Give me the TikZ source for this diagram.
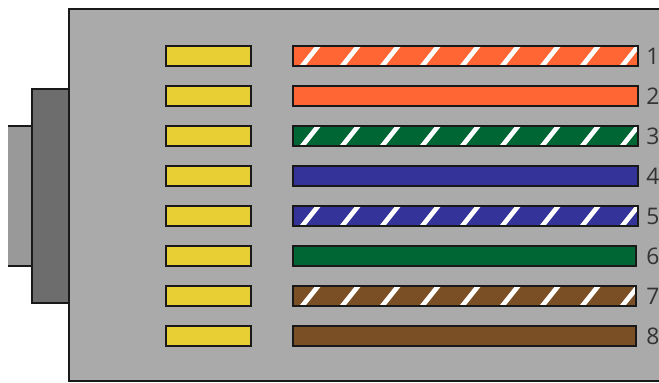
\documentclass[tikz,border=0pt]{standalone}
\usepackage{fontspec}
\setmainfont{Open Sans}
\definecolor{plugbody}{HTML}{AAAAAA}
\definecolor{plugneck}{HTML}{6D6D6D}
\definecolor{plugtab}{HTML}{999999}
\definecolor{pinyellow}{HTML}{E8CF33}
\definecolor{wireorange}{HTML}{FF6633}
\definecolor{wiregreen}{HTML}{006633}
\definecolor{wireblue}{HTML}{333399}
\definecolor{wirebrown}{HTML}{7B4F26}

\begin{document}
\begin{tikzpicture}[
    shell/.style={draw=black!90, line width=0.04cm},
    pin/.style={draw=black!90, line width=0.046cm, inner sep=0, minimum width=1.7cm, minimum height=0.4cm, fill=pinyellow},
    wire/.style={draw=black!90, line width=0.046cm, inner sep=0, minimum width=6.91cm, minimum height=0.4cm},
    shortwire/.style={wire, minimum width=6.87cm},
    striped/.style={path picture={
        \foreach \sn in {0,...,8}
            \fill[white] ([xshift=\sn*0.8cm+0.13cm]path picture bounding box.south west) -- ++(0.12,0) -- ++(0.32,0.4) -- ++(-0.12,0) -- cycle;
    }},
    number/.style={font=\fontsize{13pt}{13pt}\selectfont, text=black!80, inner sep=0}
]
    \useasboundingbox (0,0) rectangle (13.18,7.66);
    \clip (0,0) rectangle (13.18,7.66);

    % plug outline
    \fill[plugtab] (0.16,2.34) rectangle (0.63,5.13);
    \draw[shell] (0.16,5.13) -- (0.63,5.13);
    \draw[shell] (0.16,2.34) -- (0.63,2.34);
    \draw[shell, fill=plugneck] (0.63,1.6) rectangle (1.38,5.88);
    \draw[shell, fill=plugbody] (1.38,0.03) rectangle (13.6,7.47);

    % contacts
    \node[pin] (p1) at (4.17,6.54) {};
    \node[pin] (p2) at (4.17,5.74) {};
    \node[pin] (p3) at (4.17,4.94) {};
    \node[pin] (p4) at (4.17,4.14) {};
    \node[pin] (p5) at (4.17,3.34) {};
    \node[pin] (p6) at (4.17,2.54) {};
    \node[pin] (p7) at (4.17,1.74) {};
    \node[pin] (p8) at (4.17,0.94) {};

    % wires
    \node[wire, fill=wireorange, striped] (w1) at (9.31,6.54) {};
    \node[wire, fill=wireorange] (w2) at (9.31,5.74) {};
    \node[wire, fill=wiregreen, striped] (w3) at (9.31,4.94) {};
    \node[wire, fill=wireblue] (w4) at (9.31,4.14) {};
    \node[wire, fill=wireblue, striped] (w5) at (9.31,3.34) {};
    \node[shortwire, fill=wiregreen] (w6) at (9.29,2.54) {};
    \node[shortwire, fill=wirebrown, striped] (w7) at (9.29,1.74) {};
    \node[shortwire, fill=wirebrown] (w8) at (9.29,0.94) {};

    % numbers
    \node[number] (n1) at (13.06,6.54) {1};
    \node[number] (n2) at (13.06,5.74) {2};
    \node[number] (n3) at (13.06,4.94) {3};
    \node[number] (n4) at (13.06,4.14) {4};
    \node[number] (n5) at (13.06,3.34) {5};
    \node[number] (n6) at (13.06,2.54) {6};
    \node[number] (n7) at (13.06,1.74) {7};
    \node[number] (n8) at (13.06,0.94) {8};
\end{tikzpicture}
\end{document}
